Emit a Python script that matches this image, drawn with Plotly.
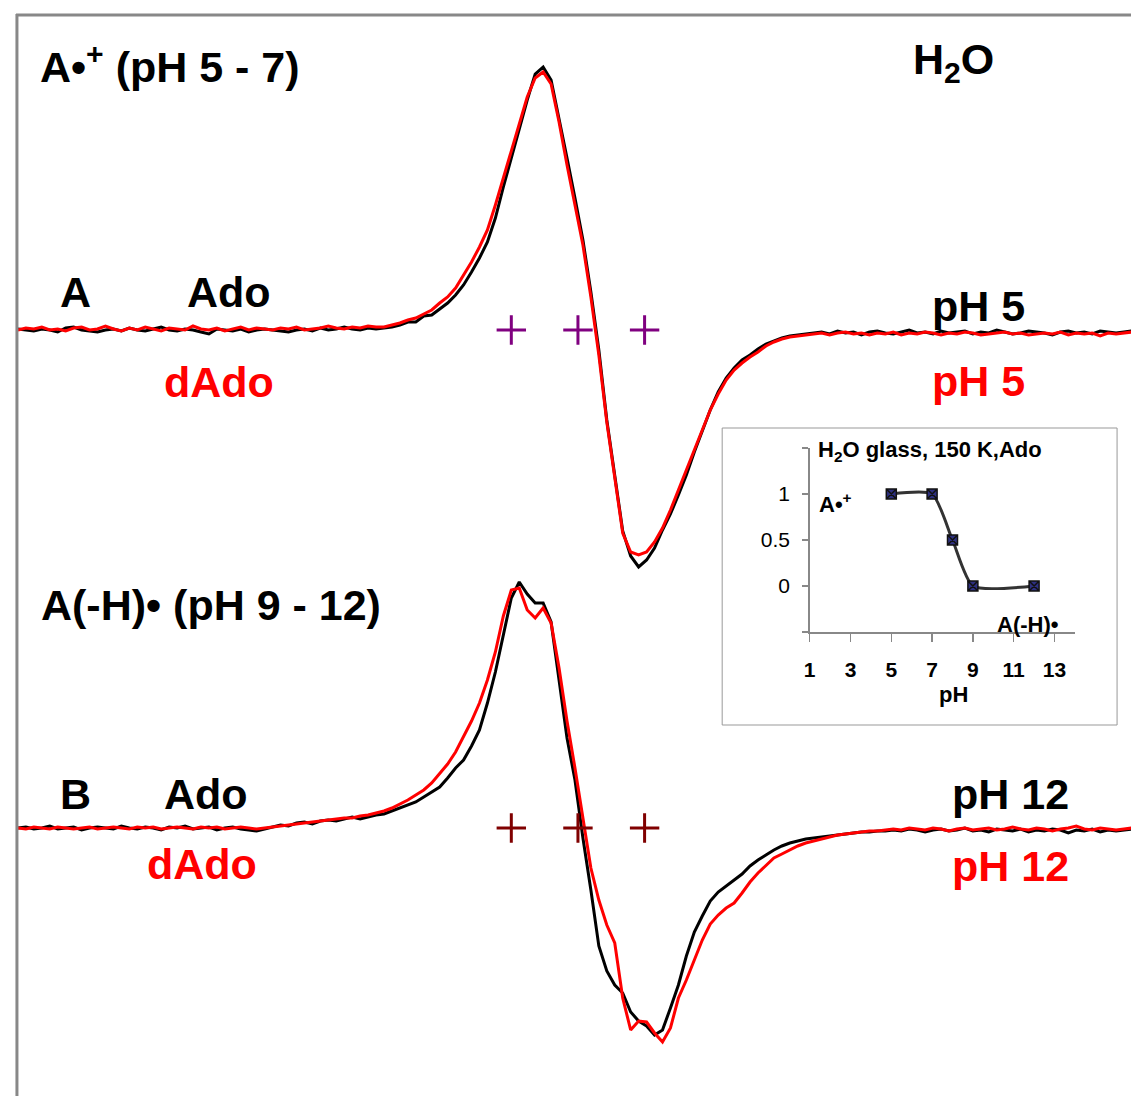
import plotly.graph_objects as go

# ---------------- data ----------------
# magnetic-field sampling grid (arbitrary units, one step = 8 px of the original)
field = list(range(12, 1133, 8))

# Spectrum A, pH 5 (A•+), intensities relative to baseline (a.u.)
ado_pH5 = [1, 0, -1, 1, 0, -2, 2, 3, 0, -1, -2, 0, 1, -1, 2, 0, -1, 1, 3, 0,
           -1, 1, 0, -2, -4, 1, 0, -1, 1, -2, 0, 1, 0, -1, -2, 0, 1, -1, 2, 0,
           1, 3, 1, 0, 2, 1,
           2, 3, 5, 8, 8, 14, 15, 21, 27, 35, 45, 58, 72, 88, 112, 143, 172, 200, 230, 256,
           263, 250, 212, 172, 132, 90, 38, -20, -90, -145, -201, -226, -237, -230, -218,
           -200, -184, -165, -145, -122, -100, -80, -62, -48, -38, -30, -25, -19, -14, -11,
           -8, -6, -5, -4,
           -3, -2, -4, -1, -3, -2, -5, -2, -1, -3, -4, -2, 0, -3, -2, -4, -1, -3, -2, -1,
           -4, -2, -3, 0, -2, -4, -3, -1, -2, -3, -5, -2, -1, -3, -2, -4, -1, -2, -3, -2, -1]
dado_pH5 = [0, 2, 1, 3, 0, 1, -1, 2, 3, 0, 1, 4, 1, -1, 2, 0, 3, 1, -1, 2,
            1, 0, 4, 1, 0, 2, -1, 1, 3, 0, 2, 1, 0, 2, 1, 3, 0, 1, 2, 4,
            2, 1, 3, 2, 4, 3,
            3, 5, 7, 10, 12, 16, 20, 27, 33, 42, 55, 68, 83, 100, 125, 152, 180, 207, 233, 252,
            258, 246, 208, 165, 125, 85, 33, -25, -92, -150, -203, -222, -225, -222, -212,
            -198, -180, -160, -140, -118, -98, -80, -64, -50, -40, -33, -27, -22, -16, -12,
            -9, -7, -6, -5,
            -4, -3, -5, -3, -2, -4, -3, -5, -3, -4, -2, -5, -3, -4, -2, -3, -5, -3, -4, -2,
            -3, -5, -4, -3, -2, -4, -3, -5, -4, -3, -4, -2, -5, -3, -4, -3, -6, -3, -4, -3, -2]

# Spectrum B, pH 12 (A(-H)•)
ado_pH12 = [0, 1, -1, 0, 2, -1, 0, 1, -2, 0, 1, 0, -1, 2, 0, -1, 1, 0, -2, 1,
            0, 2, -1, 0, 1, -2, 0, 1, -1, -2, -3,
            -1, 1, 3, 2, 5, 6, 4, 7, 8, 7, 9, 11, 9, 11, 13, 14, 17, 20, 23, 26,
            31, 36, 41, 50, 60, 68, 82, 98, 125, 156, 192, 230, 246, 234, 225,
            225, 206, 148, 90, 48, -10, -62, -118, -143, -157, -165, -184, -193, -198, -207,
            -202, -180, -157, -128, -104, -88, -73, -64, -58, -52, -46, -38, -32, -27, -22,
            -18, -15, -13, -11,
            -10, -9, -8, -7, -6, -5, -4, -4, -3, -3, -2, -3, -1, -2, -4, -2, -1, -3, -2, 0,
            -3, -2, -4, -1, -2, -3, -1, -4, -2, -3, -1, -2, -5, -2, -3, -1, -4, -2, -3, -2, -1]
dado_pH12 = [0, -1, 1, 0, -1, 1, 0, -1, 0, 1, -1, 0, 1, 0, -1, 1, 0, 1, -1, 0,
             1, 0, -1, 1, 0, 1, -1, 0, 1, 0, -1,
             0, 1, 2, 3, 4, 5, 6, 7, 8, 9, 10, 10, 12, 13, 15, 17, 20, 24, 28, 33,
             38, 45, 55, 64, 76, 92, 107, 125, 148, 176, 212, 238, 240, 218, 210,
             220, 205, 160, 107, 60, 12, -40, -72, -97, -115, -170, -202, -193, -194, -205,
             -214, -200, -170, -152, -132, -112, -96, -87, -80, -75, -65, -54, -45, -37, -30,
             -26, -22, -18, -15,
             -13, -11, -9, -7, -6, -5, -4, -3, -3, -2, -1, -2, 0, -1, -2, 0, -1, -3, -1, 0,
             -2, -1, 0, -2, -1, 1, -1, -2, 0, -1, -3, -1, 0, 2, -1, -2, 0, -1, -2, -1, 0]

# hyperfine line positions marked with "+"
line_positions = [508, 575, 642]

# inset: fraction of A•+ vs pH
inset_pH = [5, 7, 8, 9, 12]
inset_frac = [1, 1, 0.5, 0, 0]
inset_xticks = [1, 3, 5, 7, 9, 11, 13]
inset_yticks = [-0.5, 0, 0.5, 1, 1.5]
inset_yticklabels = ["", "0", "0.5", "1", ""]

for s in (ado_pH5, dado_pH5, ado_pH12, dado_pH12):
    assert len(s) == len(field), len(s)

# ---------------- figure ----------------
W, H = 1131, 1096
TOP_BASE = -330
BOT_BASE = -828
FONT = "Liberation Sans, Arial, Helvetica, sans-serif"

fig = go.Figure()

def add_spec(vals, base, color):
    fig.add_trace(go.Scatter(x=field, y=[base + v for v in vals], mode="lines",
                             line=dict(color=color, width=3), hoverinfo="skip",
                             showlegend=False))

add_spec(ado_pH5, TOP_BASE, "black")
add_spec(dado_pH5, TOP_BASE, "#ff0000")
add_spec(ado_pH12, BOT_BASE, "black")
add_spec(dado_pH12, BOT_BASE, "#ff0000")

for base, col in ((TOP_BASE, "#800080"), (BOT_BASE, "#800000")):
    fig.add_trace(go.Scatter(x=line_positions, y=[base] * len(line_positions), mode="markers",
                             marker=dict(symbol="cross-thin", size=21,
                                         line=dict(width=3, color=col)),
                             hoverinfo="skip", showlegend=False))

# inset
fig.add_trace(go.Scatter(x=inset_pH, y=inset_frac, mode="lines+markers",
                         xaxis="x2", yaxis="y2",
                         line=dict(color="#333333", width=3, shape="spline", smoothing=0.6),
                         marker=dict(symbol="square-x", size=10, color="#2e3080",
                                     line=dict(color="#111111", width=1.5)),
                         hoverinfo="skip", showlegend=False))

def px(x):
    return x / W

def py(y):
    return 1 - y / H

shapes = [
    dict(type="rect", xref="paper", yref="paper", x0=px(720), x1=px(1117), y0=py(428), y1=py(725),
         line=dict(color="#999999", width=1), fillcolor="white", layer="below"),
    dict(type="line", xref="paper", yref="paper", x0=px(10), x1=1, y0=py(15), y1=py(15),
         line=dict(color="#888888", width=3)),
    dict(type="line", xref="paper", yref="paper", x0=px(11), x1=px(11), y0=py(14), y1=0,
         line=dict(color="#888888", width=3)),
]

big = dict(family=FONT, size=43, color="black", weight="bold")
bigred = dict(family=FONT, size=43, color="#ff0000", weight="bold")
small = dict(family=FONT, size=22, color="black", weight="bold")

def ann(text, x, y, font, xanchor="left"):
    return dict(text=text, x=px(x), y=py(y), xref="paper", yref="paper", showarrow=False,
                xanchor=xanchor, yanchor="middle", font=font)

annotations = [
    ann("A•<sup>+</sup> (pH 5 - 7)", 32, 64, big),
    ann("H<sub>2</sub>O", 910, 62, big),
    ann("A", 52, 292, big),
    ann("Ado", 180, 292, big),
    ann("dAdo", 157, 382, bigred),
    ann("pH 5", 929, 306, big),
    ann("pH 5", 929, 381, bigred),
    ann("A(-H)• (pH 9 - 12)", 33, 605, big),
    ann("B", 52, 794, big),
    ann("Ado", 157, 794, big),
    ann("dAdo", 140, 864, bigred),
    ann("pH 12", 949, 794, big),
    ann("pH 12", 949, 866, bigred),
    ann("H<sub>2</sub>O glass, 150 K,Ado", 814, 451, small),
    ann("A•<sup>+</sup>", 815, 503, small),
    ann("A(-H)•", 994, 624, small),
    ann("pH", 953, 694, small, xanchor="center"),
]

fig.update_layout(
    width=W, height=H,
    margin=dict(l=0, r=0, t=0, b=0),
    paper_bgcolor="white", plot_bgcolor="rgba(0,0,0,0)",
    showlegend=False,
    dragmode=False,
    xaxis=dict(range=[0, W], visible=False, domain=[0, 1]),
    yaxis=dict(range=[-H, 0], visible=False, domain=[0, 1]),
    xaxis2=dict(domain=[px(808), px(1075)], range=[1, 14.02], anchor="y2",
                showline=True, linecolor="#888888", linewidth=1.5,
                ticks="outside", ticklen=8, tickcolor="#888888", tickwidth=1.5,
                tickvals=inset_xticks, ticklabelstandoff=10,
                tickfont=dict(family=FONT, size=21, color="black", weight="bold"),
                showgrid=False, zeroline=False),
    yaxis2=dict(domain=[py(632), py(448)], range=[-0.5, 1.5], anchor="x2",
                showline=True, linecolor="#888888", linewidth=1.5,
                ticks="outside", ticklen=6, tickcolor="#888888", tickwidth=1.5,
                tickvals=inset_yticks, ticktext=inset_yticklabels, ticklabelstandoff=8,
                tickfont=dict(family=FONT, size=21, color="black"),
                showgrid=False, zeroline=False),
    shapes=shapes,
    annotations=annotations,
)

fig.write_html("out.html",
               config={"displayModeBar": False, "staticPlot": True},
               post_script="document.body.style.margin='0';document.body.style.padding='0';")
